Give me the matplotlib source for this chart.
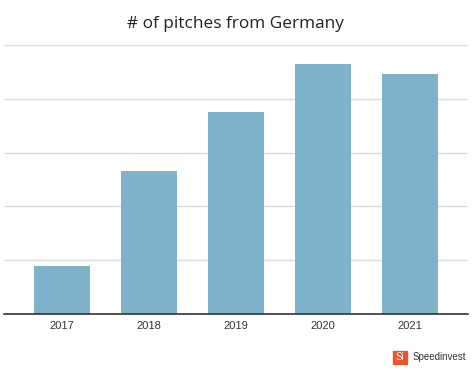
import matplotlib.pyplot as plt
from matplotlib.patches import Rectangle

years = ["2017", "2018", "2019", "2020", "2021"]
pitches = [89, 266, 376, 465, 446]

bar_color = "#7fb3cb"

fig = plt.figure(figsize=(4.74, 3.74), dpi=100)
ax = fig.add_axes([4 / 474, 60 / 374, 464 / 474, 269 / 374])

x = range(len(years))
ax.bar(x, pitches, width=0.645, color=bar_color, zorder=2)

ax.set_xlim(-0.67, 4.67)
ax.set_ylim(0, 500)
ax.set_yticks([100, 200, 300, 400, 500])
ax.yaxis.grid(True, color="#dcdcdc", linewidth=1.0, zorder=0)
ax.set_yticklabels([])
ax.tick_params(axis="y", length=0)
ax.set_xticks(list(x))
ax.set_xticklabels(years, fontsize=8, color="#333333", family="Liberation Sans")
ax.tick_params(axis="x", length=0, pad=5)

for side in ["top", "right", "left"]:
    ax.spines[side].set_visible(False)
ax.spines["bottom"].set_color("#333333")
ax.spines["bottom"].set_linewidth(1.2)
ax.spines["bottom"].set_zorder(3)

fig.text(0.5 - 1.5 / 474, 1 - 24 / 374, "# of pitches from Germany", ha="center", va="center",
         fontsize=12.4, color="#222222", family="Open Sans")

# logo
fig.patches.append(Rectangle((393 / 474, 1 - 364 / 374), 14 / 474, 13.5 / 374,
                             transform=fig.transFigure, color="#e8562a"))
fig.text(400 / 474, 1 - 357 / 374, "Si", ha="center", va="center",
         fontsize=7, color="white", family="Liberation Sans")
fig.text(412.5 / 474, 1 - 356.5 / 374, "Speedinvest", ha="left", va="center",
         fontsize=7, color="#333333", family="Liberation Sans")

fig.savefig("out.png", dpi=100)
